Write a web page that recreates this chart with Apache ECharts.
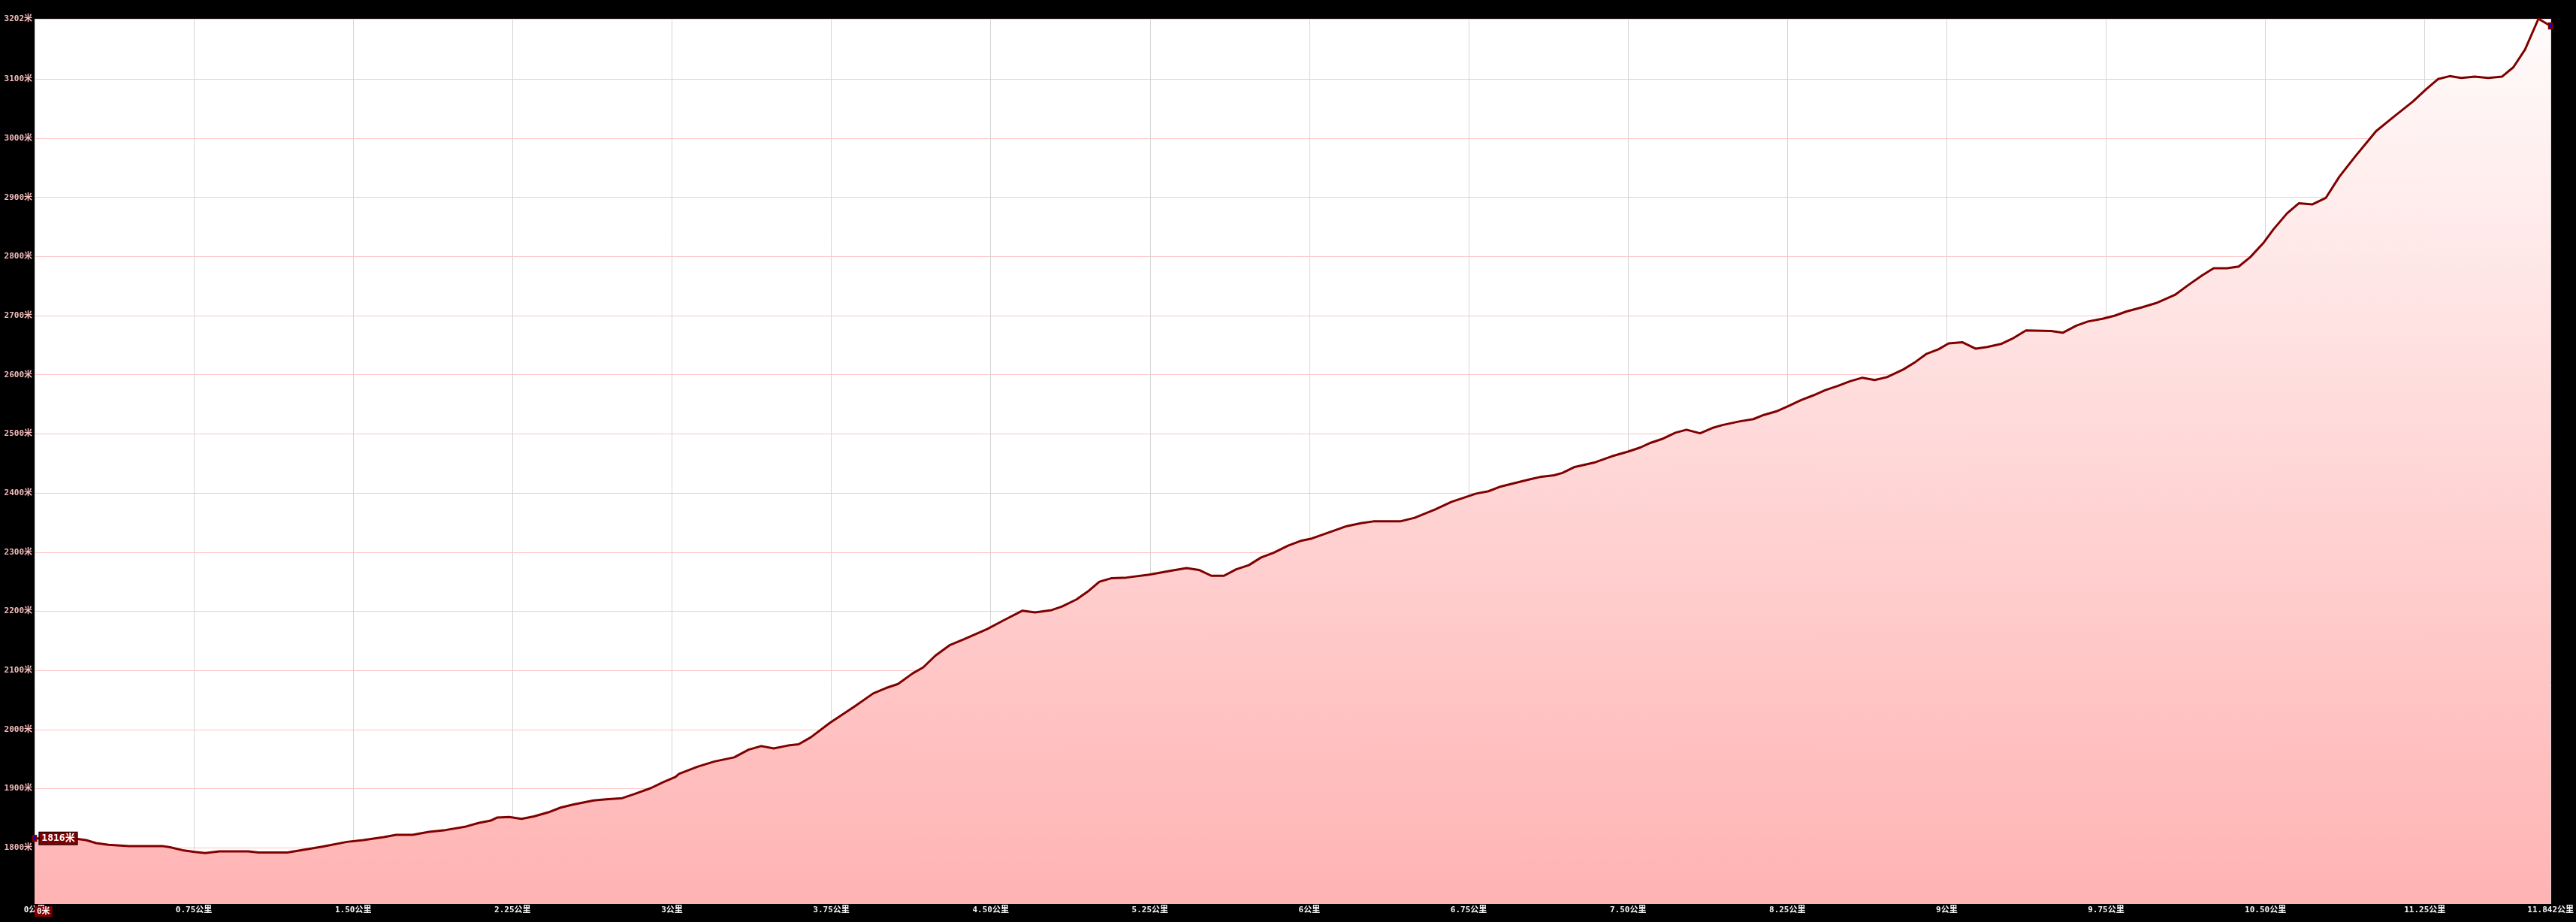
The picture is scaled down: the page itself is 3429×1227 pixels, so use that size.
<!DOCTYPE html>
<html>
<head>
<meta charset="utf-8">
<script src="https://cdn.jsdelivr.net/npm/echarts@6/dist/echarts.min.js"></script>
<style>
  html, body { margin: 0; padding: 0; background: #000; }
  #chart { width: 3429px; height: 1227px; }
</style>
</head>
<body>
<div id="chart"></div>
<script>
// 距离(公里)
const dist = [
    0.000, 0.145, 0.203, 0.242, 0.290, 0.348, 0.445, 0.600, 0.638, 0.696,
    0.754, 0.803, 0.870, 1.006, 1.054, 1.190, 1.238, 1.354, 1.470, 1.547,
    1.644, 1.702, 1.779, 1.857, 1.934, 2.031, 2.089, 2.147, 2.176, 2.234,
    2.292, 2.350, 2.418, 2.476, 2.534, 2.631, 2.689, 2.766, 2.824, 2.901,
    2.959, 3.017, 3.033, 3.120, 3.200, 3.293, 3.361, 3.420, 3.479, 3.547,
    3.596, 3.654, 3.742, 3.859, 3.947, 4.006, 4.064, 4.133, 4.182, 4.240,
    4.309, 4.377, 4.484, 4.563, 4.650, 4.709, 4.787, 4.836, 4.904, 4.963,
    5.012, 5.070, 5.139, 5.246, 5.354, 5.422, 5.480, 5.539, 5.598, 5.656,
    5.715, 5.773, 5.832, 5.900, 5.959, 6.011, 6.089, 6.176, 6.243, 6.301,
    6.427, 6.495, 6.591, 6.669, 6.727, 6.785, 6.843, 6.901, 7.036, 7.085,
    7.152, 7.191, 7.249, 7.346, 7.423, 7.500, 7.558, 7.607, 7.665, 7.723,
    7.775, 7.839, 7.897, 7.945, 8.023, 8.090, 8.139, 8.197, 8.255, 8.313,
    8.371, 8.429, 8.487, 8.545, 8.603, 8.661, 8.719, 8.796, 8.854, 8.903,
    8.961, 9.009, 9.073, 9.137, 9.191, 9.255, 9.309, 9.373, 9.491, 9.546,
    9.610, 9.664, 9.737, 9.792, 9.846, 9.919, 9.992, 10.074, 10.138, 10.202,
    10.256, 10.320, 10.374, 10.429, 10.493, 10.538, 10.602, 10.657, 10.720, 10.784,
    10.848, 10.920, 10.975, 11.021, 11.103, 11.194, 11.257, 11.312, 11.367, 11.422,
    11.485, 11.549, 11.613, 11.667, 11.722, 11.785, 11.842
];

// 海拔(米)
const elev = [
    1816, 1816, 1815, 1813, 1808, 1805, 1803, 1803, 1801, 1796,
    1793, 1791, 1794, 1794, 1792, 1792, 1795, 1802, 1810, 1813,
    1818, 1822, 1822, 1827, 1830, 1836, 1842, 1846, 1851, 1852,
    1849, 1853, 1860, 1868, 1873, 1880, 1882, 1884, 1891, 1901,
    1911, 1920, 1925, 1937, 1946, 1953, 1966, 1972, 1968, 1973,
    1975, 1987, 2011, 2039, 2061, 2070, 2077, 2095, 2105, 2125,
    2143, 2153, 2170, 2185, 2201, 2198, 2202, 2208, 2220, 2235,
    2250, 2256, 2257, 2262, 2269, 2273, 2270, 2260, 2260, 2271,
    2278, 2291, 2299, 2311, 2319, 2323, 2333, 2344, 2349, 2352,
    2352, 2358, 2372, 2385, 2392, 2399, 2403, 2411, 2423, 2427,
    2430, 2434, 2444, 2452, 2462, 2470, 2477, 2485, 2492, 2502,
    2507, 2501, 2510, 2515, 2521, 2525, 2532, 2538, 2547, 2557,
    2565, 2574, 2581, 2589, 2595, 2591, 2596, 2609, 2622, 2635,
    2643, 2653, 2655, 2644, 2647, 2652, 2661, 2675, 2674, 2671,
    2683, 2690, 2695, 2700, 2707, 2714, 2722, 2735, 2752, 2768,
    2780, 2780, 2783, 2799, 2824, 2846, 2873, 2890, 2888, 2899,
    2935, 2968, 2992, 3012, 3036, 3062, 3083, 3100, 3105, 3102,
    3104, 3102, 3104, 3120, 3150, 3202, 3190
];

// 刻度
const xTickValues = [0, 0.75, 1.5, 2.25, 3, 3.75, 4.5, 5.25, 6, 6.75, 7.5, 8.25, 9, 9.75, 10.5, 11.25, 11.842];
const xTickLabels = ['0公里', '0.75公里', '1.50公里', '2.25公里', '3公里', '3.75公里', '4.50公里', '5.25公里',
    '6公里', '6.75公里', '7.50公里', '8.25公里', '9公里', '9.75公里', '10.50公里', '11.25公里', '11.842公里'];
const yTickValues = [1790, 1800, 1900, 2000, 2100, 2200, 2300, 2400, 2500, 2600, 2700, 2800, 2900, 3000, 3100, 3202];
const yMin = 1705;
const yMax = 3202;

const FONT = '"DejaVu Sans Mono", "Noto Sans CJK SC", monospace';

const chart = echarts.init(document.getElementById('chart'));

const option = {
    backgroundColor: '#000',
    animation: false,
    grid: {
        left: 46, right: 25, top: 25, bottom: 24,
        show: true, backgroundColor: '#fff', borderWidth: 0
    },
    xAxis: {
        type: 'value',
        min: 0,
        max: dist[dist.length - 1],
        axisLine: { show: false },
        axisTick: { show: false, customValues: xTickValues },
        splitLine: { show: true, lineStyle: { color: '#d6d6d6', width: 1 } },
        axisLabel: {
            customValues: xTickValues,
            formatter: v => xTickLabels[xTickValues.indexOf(v)],
            color: '#f4f4f4',
            fontFamily: FONT,
            fontWeight: 'bold',
            fontSize: 11,
            margin: 3
        }
    },
    yAxis: {
        type: 'value',
        min: yMin,
        max: yMax,
        axisLine: { show: false },
        axisTick: { show: false, customValues: yTickValues },
        splitLine: { show: true, lineStyle: { color: '#ffc4c4', width: 1 } },
        axisLabel: {
            customValues: yTickValues,
            formatter: v => v + '米',
            color: '#f4bcbc',
            fontFamily: FONT,
            fontWeight: 'bold',
            fontSize: 11,
            margin: 3
        }
    },
    series: [{
        type: 'line',
        data: dist.map((d, i) => [d, elev[i]]),
        showSymbol: false,
        lineStyle: { color: '#800000', width: 3 },
        itemStyle: { color: '#800000' },
        areaStyle: {
            origin: 'start',
            opacity: 1,
            color: new echarts.graphic.LinearGradient(0, 25, 0, 1203, [
                { offset: 0, color: '#fffbfb' },
                { offset: 1, color: '#ffb3b3' }
            ], true)
        },
        markPoint: {
            silent: true,
            symbol: 'rect',
            symbolSize: [5, 7],
            itemStyle: { color: '#0000ff', borderColor: '#800000', borderWidth: 2 },
            data: [
                {
                    coord: [dist[0], elev[0]],
                    label: {
                        show: true,
                        position: 'right',
                        distance: 3,
                        formatter: elev[0] + '米',
                        backgroundColor: '#800000',
                        borderColor: '#000',
                        borderWidth: 1,
                        color: '#fff',
                        fontFamily: FONT,
                        fontWeight: 'bold',
                        fontSize: 13,
                        padding: [2, 3, 1, 3]
                    }
                },
                {
                    coord: [dist[dist.length - 1], elev[elev.length - 1]],
                    label: { show: false }
                }
            ]
        }
    }],
    graphic: [{
        type: 'text',
        left: 46,
        top: 1206,
        z: 100,
        style: {
            text: '0米',
            fill: '#fff',
            backgroundColor: '#800000',
            padding: [2, 3, 1, 3],
            font: 'bold 11px ' + FONT
        }
    }]
};

chart.setOption(option);
</script>
</body>
</html>
